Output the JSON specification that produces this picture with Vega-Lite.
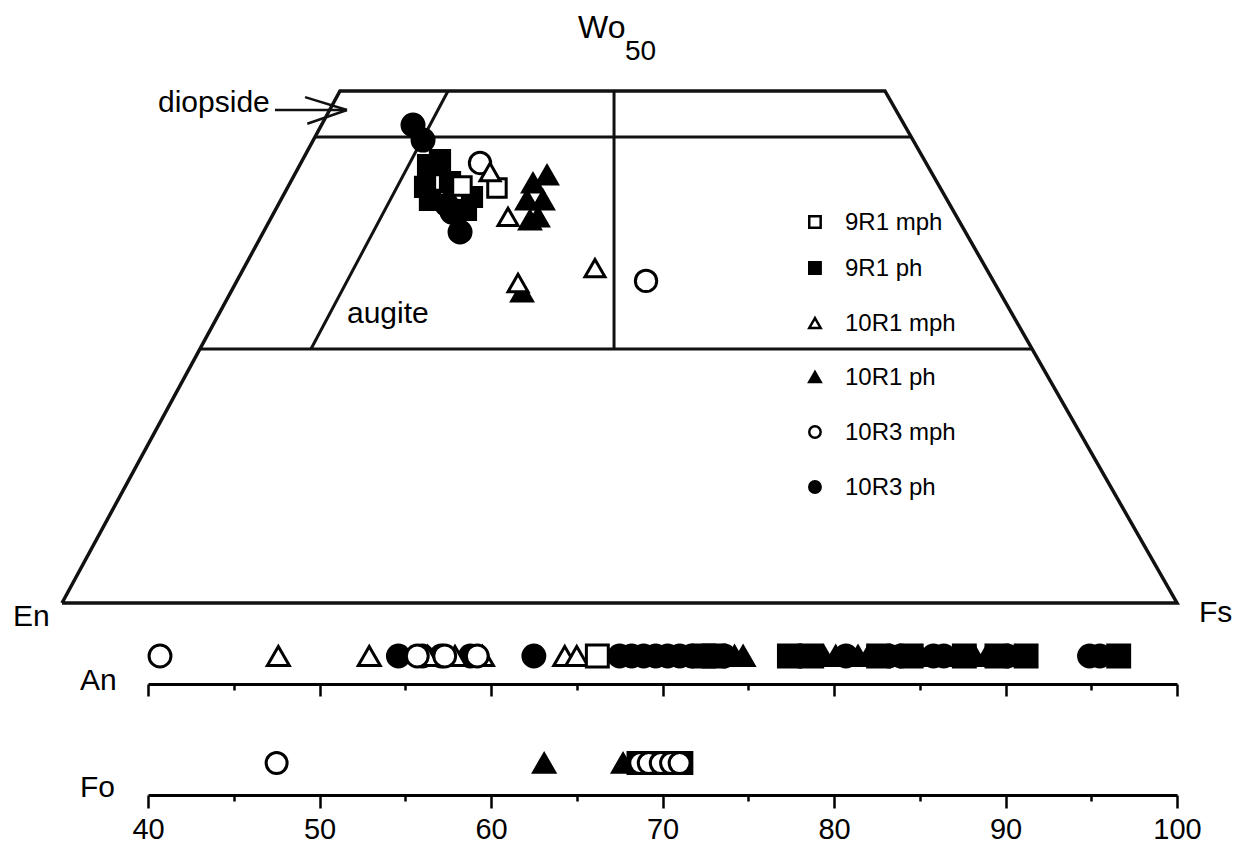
{
  "$schema": "https://vega.github.io/schema/vega-lite/v6.json",
  "width": 1235,
  "height": 851,
  "padding": 0,
  "autosize": {"type": "none"},
  "background": "white",
  "config": {
    "view": {"stroke": null},
    "font": "Liberation Sans"
  },
  "layer": [
    {
      "layer": [
        {
          "data": {"values": [
            {"x": 0, "y": 0, "o": 1},
            {"x": 24.93, "y": 50, "o": 2},
            {"x": 73.81, "y": 50, "o": 3},
            {"x": 100, "y": 0, "o": 4},
            {"x": 0, "y": 0, "o": 5}
          ]},
          "mark": {"type": "line", "color": "#111", "strokeWidth": 3.5, "strokeJoin": "miter"},
          "encoding": {
            "x": {"field": "x", "type": "quantitative", "scale": {"domain": [0, 100], "range": [62, 1177], "nice": false, "zero": false}, "axis": null},
            "y": {"field": "y", "type": "quantitative", "scale": {"domain": [0, 50], "range": [603, 91], "nice": false, "zero": false}, "axis": null},
            "order": {"field": "o", "type": "quantitative"}
          }
        },
        {
          "data": {"values": [
            {"x": 22.69, "y": 45.51, "x2": 76.16, "y2": 45.51},
            {"x": 12.37, "y": 24.8, "x2": 87.01, "y2": 24.8},
            {"x": 34.62, "y": 50, "x2": 22.33, "y2": 24.8},
            {"x": 49.51, "y": 50, "x2": 49.51, "y2": 24.8}
          ]},
          "mark": {"type": "rule", "color": "#111", "strokeWidth": 3},
          "encoding": {
            "x": {"field": "x", "type": "quantitative", "scale": {"domain": [0, 100], "range": [62, 1177], "nice": false, "zero": false}, "axis": null},
            "y": {"field": "y", "type": "quantitative", "scale": {"domain": [0, 50], "range": [603, 91], "nice": false, "zero": false}, "axis": null},
            "x2": {"field": "x2"},
            "y2": {"field": "y2"}
          }
        },
        {
          "data": {"values": [
            {"x": 19.1, "y": 48.14, "x2": 25.56, "y2": 48.14},
            {"x": 21.8, "y": 49.4, "x2": 25.56, "y2": 48.14},
            {"x": 22.0, "y": 46.8, "x2": 25.56, "y2": 48.14}
          ]},
          "mark": {"type": "rule", "color": "#111", "strokeWidth": 2.5},
          "encoding": {
            "x": {"field": "x", "type": "quantitative", "scale": {"domain": [0, 100], "range": [62, 1177], "nice": false, "zero": false}, "axis": null},
            "y": {"field": "y", "type": "quantitative", "scale": {"domain": [0, 50], "range": [603, 91], "nice": false, "zero": false}, "axis": null},
            "x2": {"field": "x2"},
            "y2": {"field": "y2"}
          }
        },
        {
          "data": {"values": [
            {"x": 37.49, "y": 42.97, "s": "10R3 mph"},
            {"x": 52.38, "y": 31.45, "s": "10R3 mph"},
            {"x": 32.83, "y": 42.77, "s": "9R1 ph"},
            {"x": 32.56, "y": 40.63, "s": "9R1 ph"},
            {"x": 33.9, "y": 43.26, "s": "9R1 ph"},
            {"x": 34.8, "y": 41.11, "s": "9R1 ph"},
            {"x": 33.0, "y": 39.36, "s": "9R1 ph"},
            {"x": 36.77, "y": 39.65, "s": "9R1 ph"},
            {"x": 36.23, "y": 38.38, "s": "9R1 ph"},
            {"x": 31.48, "y": 46.68, "s": "10R3 ph"},
            {"x": 32.38, "y": 45.21, "s": "10R3 ph"},
            {"x": 34.53, "y": 38.87, "s": "10R3 ph"},
            {"x": 34.98, "y": 38.18, "s": "10R3 ph"},
            {"x": 35.7, "y": 36.23, "s": "10R3 ph"},
            {"x": 42.24, "y": 41.02, "s": "10R1 ph"},
            {"x": 43.5, "y": 41.8, "s": "10R1 ph"},
            {"x": 41.7, "y": 39.36, "s": "10R1 ph"},
            {"x": 43.14, "y": 39.36, "s": "10R1 ph"},
            {"x": 42.69, "y": 37.7, "s": "10R1 ph"},
            {"x": 41.97, "y": 37.4, "s": "10R1 ph"},
            {"x": 41.26, "y": 30.37, "s": "10R1 ph"},
            {"x": 35.87, "y": 40.72, "s": "9R1 mph"},
            {"x": 39.01, "y": 40.53, "s": "9R1 mph"},
            {"x": 38.39, "y": 42.09, "s": "10R1 mph"},
            {"x": 40.0, "y": 37.7, "s": "10R1 mph"},
            {"x": 40.9, "y": 31.25, "s": "10R1 mph"},
            {"x": 47.8, "y": 32.71, "s": "10R1 mph"}
          ]},
          "mark": {"type": "point", "filled": true, "stroke": "black", "strokeWidth": 3, "opacity": 1},
          "encoding": {
            "x": {"field": "x", "type": "quantitative", "scale": {"domain": [0, 100], "range": [62, 1177], "nice": false, "zero": false}, "axis": null},
            "y": {"field": "y", "type": "quantitative", "scale": {"domain": [0, 50], "range": [603, 91], "nice": false, "zero": false}, "axis": null},
            "shape": {"field": "s", "type": "nominal", "legend": null, "scale": {"domain": ["9R1 mph", "9R1 ph", "10R1 mph", "10R1 ph", "10R3 mph", "10R3 ph"], "range": ["square", "square", "triangle-up", "triangle-up", "circle", "circle"]}},
            "fill": {"field": "s", "type": "nominal", "legend": null, "scale": {"domain": ["9R1 mph", "9R1 ph", "10R1 mph", "10R1 ph", "10R3 mph", "10R3 ph"], "range": ["white", "black", "white", "black", "white", "black"]}},
            "size": {"field": "s", "type": "nominal", "legend": null, "scale": {"domain": ["9R1 mph", "9R1 ph", "10R1 mph", "10R1 ph", "10R3 mph", "10R3 ph"], "range": [340, 484, 600, 700, 820, 440]}}
          }
        },
        {
          "data": {"values": [
            {"x": 67.53, "y": 37.21, "s": "9R1 mph"},
            {"x": 67.53, "y": 32.71, "s": "9R1 ph"},
            {"x": 67.53, "y": 27.34, "s": "10R1 mph"},
            {"x": 67.53, "y": 22.07, "s": "10R1 ph"},
            {"x": 67.53, "y": 16.7, "s": "10R3 mph"},
            {"x": 67.53, "y": 11.33, "s": "10R3 ph"}
          ]},
          "layer": [
            {
              "mark": {"type": "point", "filled": true, "stroke": "black", "strokeWidth": 2.5, "opacity": 1, "size": 130},
              "encoding": {
                "x": {"field": "x", "type": "quantitative", "scale": {"domain": [0, 100], "range": [62, 1177], "nice": false, "zero": false}, "axis": null},
                "y": {"field": "y", "type": "quantitative", "scale": {"domain": [0, 50], "range": [603, 91], "nice": false, "zero": false}, "axis": null},
                "shape": {"field": "s", "type": "nominal", "legend": null, "scale": {"domain": ["9R1 mph", "9R1 ph", "10R1 mph", "10R1 ph", "10R3 mph", "10R3 ph"], "range": ["square", "square", "triangle-up", "triangle-up", "circle", "circle"]}},
                "fill": {"field": "s", "type": "nominal", "legend": null, "scale": {"domain": ["9R1 mph", "9R1 ph", "10R1 mph", "10R1 ph", "10R3 mph", "10R3 ph"], "range": ["white", "black", "white", "black", "white", "black"]}}
              }
            },
            {
              "mark": {"type": "text", "align": "left", "baseline": "middle", "dx": 30, "dy": 1, "fontSize": 24, "font": "Liberation Sans", "color": "black"},
              "encoding": {
                "x": {"field": "x", "type": "quantitative", "scale": {"domain": [0, 100], "range": [62, 1177], "nice": false, "zero": false}, "axis": null},
                "y": {"field": "y", "type": "quantitative", "scale": {"domain": [0, 50], "range": [603, 91], "nice": false, "zero": false}, "axis": null},
                "text": {"field": "s"}
              }
            }
          ]
        },
        {
          "data": {"values": [
            {"x": 8.61, "y": 47.95, "t": "diopside"},
            {"x": 25.56, "y": 27.34, "t": "augite"},
            {"x": -4.39, "y": -2.25, "t": "En"},
            {"x": 101.97, "y": -1.86, "t": "Fs"},
            {"x": 1.61, "y": -8.5, "t": "An"},
            {"x": 1.61, "y": -18.9, "t": "Fo"}
          ]},
          "mark": {"type": "text", "align": "left", "baseline": "alphabetic", "fontSize": 30, "font": "Liberation Sans", "color": "black"},
          "encoding": {
            "x": {"field": "x", "type": "quantitative", "scale": {"domain": [0, 100], "range": [62, 1177], "nice": false, "zero": false}, "axis": null},
            "y": {"field": "y", "type": "quantitative", "scale": {"domain": [0, 50], "range": [603, 91], "nice": false, "zero": false}, "axis": null},
            "text": {"field": "t"}
          }
        },
        {
          "data": {"values": [{"x": 46.28, "y": 55.18, "t": "Wo"}]},
          "mark": {"type": "text", "align": "left", "baseline": "alphabetic", "fontSize": 32, "font": "Liberation Sans", "color": "black"},
          "encoding": {
            "x": {"field": "x", "type": "quantitative", "scale": {"domain": [0, 100], "range": [62, 1177], "nice": false, "zero": false}, "axis": null},
            "y": {"field": "y", "type": "quantitative", "scale": {"domain": [0, 50], "range": [603, 91], "nice": false, "zero": false}, "axis": null},
            "text": {"field": "t"}
          }
        },
        {
          "data": {"values": [{"x": 50.49, "y": 53.03, "t": "50"}]},
          "mark": {"type": "text", "align": "left", "baseline": "alphabetic", "fontSize": 28, "font": "Liberation Sans", "color": "black"},
          "encoding": {
            "x": {"field": "x", "type": "quantitative", "scale": {"domain": [0, 100], "range": [62, 1177], "nice": false, "zero": false}, "axis": null},
            "y": {"field": "y", "type": "quantitative", "scale": {"domain": [0, 50], "range": [603, 91], "nice": false, "zero": false}, "axis": null},
            "text": {"field": "t"}
          }
        }
      ]
    },
    {
      "data": {"values": [
        {"v": 40.7, "s": "10R3 mph"},
        {"v": 47.6, "s": "10R1 mph"},
        {"v": 52.9, "s": "10R1 mph"},
        {"v": 54.6, "s": "10R3 ph"},
        {"v": 56.0, "s": "10R3 ph"},
        {"v": 57.1, "s": "10R3 ph"},
        {"v": 58.8, "s": "10R3 ph"},
        {"v": 56.3, "s": "10R1 mph"},
        {"v": 57.9, "s": "10R1 mph"},
        {"v": 59.5, "s": "10R1 mph"},
        {"v": 55.7, "s": "10R3 mph"},
        {"v": 57.3, "s": "10R3 mph"},
        {"v": 59.2, "s": "10R3 mph"},
        {"v": 62.5, "s": "10R3 ph"},
        {"v": 64.3, "s": "10R1 mph"},
        {"v": 65.0, "s": "10R1 mph"},
        {"v": 66.2, "s": "9R1 mph"},
        {"v": 67.5, "s": "10R3 ph"},
        {"v": 68.2, "s": "10R3 ph"},
        {"v": 68.9, "s": "10R3 ph"},
        {"v": 69.6, "s": "10R3 ph"},
        {"v": 70.3, "s": "10R3 ph"},
        {"v": 71.0, "s": "10R3 ph"},
        {"v": 71.7, "s": "10R3 ph"},
        {"v": 72.4, "s": "9R1 ph"},
        {"v": 73.0, "s": "9R1 ph"},
        {"v": 73.6, "s": "10R3 ph"},
        {"v": 74.2, "s": "10R1 ph"},
        {"v": 74.7, "s": "10R1 ph"},
        {"v": 77.4, "s": "9R1 ph"},
        {"v": 78.0, "s": "10R3 ph"},
        {"v": 78.7, "s": "9R1 ph"},
        {"v": 79.4, "s": "10R1 ph"},
        {"v": 80.1, "s": "10R1 ph"},
        {"v": 80.7, "s": "10R3 ph"},
        {"v": 81.4, "s": "10R1 ph"},
        {"v": 82.0, "s": "10R1 ph"},
        {"v": 82.6, "s": "9R1 ph"},
        {"v": 83.2, "s": "10R3 ph"},
        {"v": 83.9, "s": "10R3 ph"},
        {"v": 84.5, "s": "9R1 ph"},
        {"v": 85.1, "s": "10R1 ph"},
        {"v": 85.8, "s": "10R3 ph"},
        {"v": 86.4, "s": "10R3 ph"},
        {"v": 87.0, "s": "10R1 ph"},
        {"v": 87.6, "s": "9R1 ph"},
        {"v": 88.2, "s": "10R1 ph"},
        {"v": 88.9, "s": "10R1 ph"},
        {"v": 89.5, "s": "9R1 ph"},
        {"v": 90.1, "s": "10R3 ph"},
        {"v": 90.6, "s": "10R1 ph"},
        {"v": 91.2, "s": "9R1 ph"},
        {"v": 94.9, "s": "10R3 ph"},
        {"v": 95.5, "s": "10R3 ph"},
        {"v": 96.6, "s": "9R1 ph"}
      ]},
      "mark": {"type": "point", "filled": true, "stroke": "black", "strokeWidth": 3, "opacity": 1, "size": 480},
      "encoding": {
        "x": {"field": "v", "type": "quantitative", "scale": {"domain": [40, 100], "range": [148, 1177], "nice": false, "zero": false},
          "axis": {"orient": "bottom", "offset": -167, "values": [40, 45, 50, 55, 60, 65, 70, 75, 80, 85, 90, 95, 100], "labels": false, "domainColor": "black", "domainWidth": 3, "tickColor": "black", "tickWidth": 2.5, "tickSize": {"condition": {"test": "datum.value % 10 === 0", "value": 12}, "value": 6}, "grid": false, "title": null}},
        "y": {"datum": -5.18, "type": "quantitative", "scale": {"domain": [0, 50], "range": [603, 91], "nice": false, "zero": false}, "axis": null},
        "shape": {"field": "s", "type": "nominal", "legend": null, "scale": {"domain": ["9R1 mph", "9R1 ph", "10R1 mph", "10R1 ph", "10R3 mph", "10R3 ph"], "range": ["square", "square", "triangle-up", "triangle-up", "circle", "circle"]}},
        "fill": {"field": "s", "type": "nominal", "legend": null, "scale": {"domain": ["9R1 mph", "9R1 ph", "10R1 mph", "10R1 ph", "10R3 mph", "10R3 ph"], "range": ["white", "black", "white", "black", "white", "black"]}}
      }
    },
    {
      "data": {"values": [
        {"v": 47.5, "s": "10R3 mph"},
        {"v": 63.1, "s": "10R1 ph"},
        {"v": 67.7, "s": "10R1 ph"},
        {"v": 68.6, "s": "9R1 ph"},
        {"v": 69.5, "s": "9R1 ph"},
        {"v": 70.4, "s": "9R1 ph"},
        {"v": 71.1, "s": "9R1 ph"},
        {"v": 68.7, "s": "10R3 mph"},
        {"v": 69.2, "s": "10R3 mph"},
        {"v": 69.9, "s": "10R3 mph"},
        {"v": 70.5, "s": "10R3 mph"},
        {"v": 71.0, "s": "10R3 mph"}
      ]},
      "mark": {"type": "point", "filled": true, "stroke": "black", "strokeWidth": 3, "opacity": 1, "size": 440},
      "encoding": {
        "x": {"field": "v", "type": "quantitative", "scale": {"domain": [40, 100], "range": [148, 1177], "nice": false, "zero": false},
          "axis": {"orient": "bottom", "offset": -56, "values": [40, 45, 50, 55, 60, 65, 70, 75, 80, 85, 90, 95, 100], "labels": true, "labelExpr": "datum.value % 10 === 0 ? datum.label : ''", "labelFontSize": 29, "labelFont": "Liberation Sans", "labelColor": "black", "labelPadding": 7, "labelFlush": false, "labelOverlap": false, "domainColor": "black", "domainWidth": 3, "tickColor": "black", "tickWidth": 2.5, "tickSize": {"condition": {"test": "datum.value % 10 === 0", "value": 13}, "value": 6}, "grid": false, "title": null}},
        "y": {"datum": -15.63, "type": "quantitative", "scale": {"domain": [0, 50], "range": [603, 91], "nice": false, "zero": false}, "axis": null},
        "shape": {"field": "s", "type": "nominal", "legend": null, "scale": {"domain": ["9R1 mph", "9R1 ph", "10R1 mph", "10R1 ph", "10R3 mph", "10R3 ph"], "range": ["square", "square", "triangle-up", "triangle-up", "circle", "circle"]}},
        "fill": {"field": "s", "type": "nominal", "legend": null, "scale": {"domain": ["9R1 mph", "9R1 ph", "10R1 mph", "10R1 ph", "10R3 mph", "10R3 ph"], "range": ["white", "black", "white", "black", "white", "black"]}}
      }
    }
  ],
  "resolve": {"scale": {"x": "independent"}, "axis": {"x": "independent"}}
}
